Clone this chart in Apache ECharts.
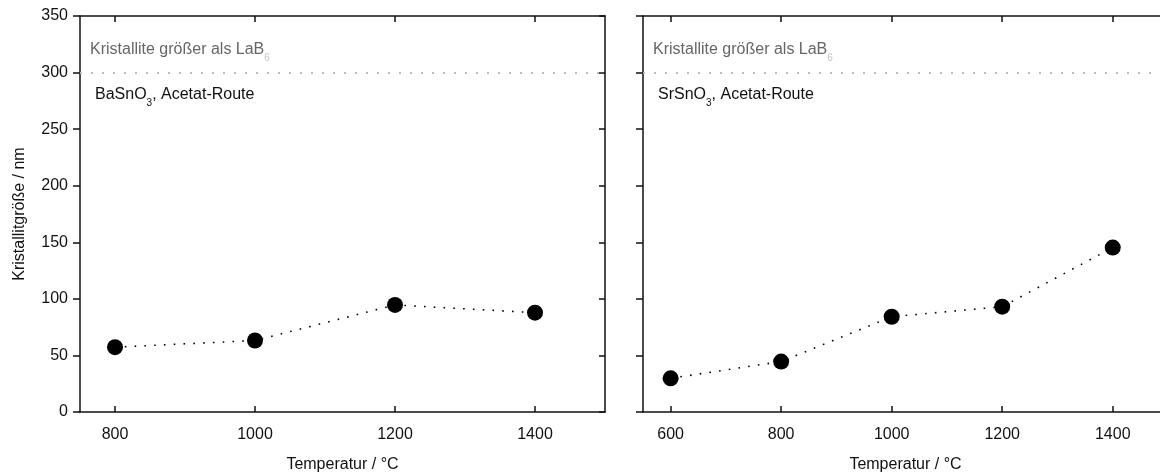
<!DOCTYPE html>
<html>
<head>
<meta charset="utf-8">
<script src="https://cdn.jsdelivr.net/npm/echarts@6/dist/echarts.min.js"></script>
<style>
html,body{margin:0;padding:0;background:#fff;overflow:hidden;width:1160px;height:473px;}
#c{width:1180px;height:473px;}
</style>
</head>
<body>
<div id="c"></div>
<script>
// ---- data ----
const leftTemps = [800, 1000, 1200, 1400];
const leftSizes = [57.3, 63.2, 94.6, 87.8];
const rightTemps = [600, 800, 1000, 1200, 1400];
const rightSizes = [29.8, 44.6, 84.2, 93.1, 145.3];
const leftXTicks = [800, 1000, 1200, 1400];
const rightXTicks = [600, 800, 1000, 1200, 1400];
const limitValue = 300;
const leftLabel = ['BaSnO', '3', ', Acetat-Route'];
const rightLabel = ['SrSnO', '3', ', Acetat-Route'];
const limitLabel = ['Kristallite größer als LaB', '6'];
const xName = 'Temperatur / °C';
const yName = 'Kristallitgröße / nm';

const FONT = "'Liberation Sans', Arial, sans-serif";
const INK = '#111';

function pairs(xs, ys) { return xs.map((x, i) => [x, ys[i]]); }
const plain = v => String(v);

function xAxes(gridIndex, min, max, ticks) {
  return [
    {
      gridIndex, type: 'value', position: 'bottom', min, max,
      axisLine: { show: true, onZero: false, lineStyle: { color: INK, width: 1.5 } },
      axisTick: { show: true, inside: true, length: 6, customValues: ticks, lineStyle: { color: INK, width: 1.5 } },
      axisLabel: { show: true, customValues: ticks, formatter: plain, margin: 15, color: INK, fontSize: 16, fontFamily: FONT },
      splitLine: { show: false },
      name: xName, nameLocation: 'middle', nameGap: 45,
      nameTextStyle: { color: INK, fontSize: 16, fontFamily: FONT }
    },
    {
      gridIndex, type: 'value', position: 'top', min, max,
      axisLine: { show: true, onZero: false, lineStyle: { color: INK, width: 1.5 } },
      axisTick: { show: true, inside: true, length: 6, customValues: ticks, lineStyle: { color: INK, width: 1.5 } },
      axisLabel: { show: false },
      splitLine: { show: false }
    }
  ];
}

function yAxes(gridIndex, withLabels) {
  return [
    {
      gridIndex, type: 'value', position: 'left', min: 0, max: 350, interval: 50,
      axisLine: { show: true, onZero: false, lineStyle: { color: INK, width: 1.5 } },
      axisTick: { show: true, inside: false, length: 7, lineStyle: { color: INK, width: 1.5 } },
      axisLabel: { show: withLabels, formatter: plain, margin: 12, color: INK, fontSize: 16, fontFamily: FONT },
      splitLine: { show: false },
      name: withLabels ? yName : '', nameLocation: 'middle', nameGap: 52,
      nameTextStyle: { color: INK, fontSize: 16, fontFamily: FONT }
    },
    {
      gridIndex, type: 'value', position: 'right', min: 0, max: 350, interval: 50,
      axisLine: { show: true, onZero: false, lineStyle: { color: INK, width: 1.5 } },
      axisTick: { show: true, inside: true, length: 6, lineStyle: { color: INK, width: 1.5 } },
      axisLabel: { show: false },
      splitLine: { show: false }
    }
  ];
}

function dataSeries(xAxisIndex, yAxisIndex, xs, ys) {
  return {
    type: 'line', xAxisIndex, yAxisIndex,
    data: pairs(xs, ys),
    symbol: 'circle', symbolSize: 16,
    itemStyle: { color: '#000' },
    lineStyle: { color: '#000', width: 1.6, type: [1.6, 8.2] },
    silent: true, animation: false, z: 3,
    markLine: {
      silent: true, symbol: ['none', 'none'],
      label: { show: false },
      lineStyle: { color: '#bdbdbd', width: 2, type: [2, 9] },
      data: [{ yAxis: limitValue }],
      animation: false
    }
  };
}

function rich(mainColor, subColor) {
  return {
    m: { fontSize: 16, fontWeight: 'normal', color: mainColor, fontFamily: FONT, lineHeight: 21, verticalAlign: 'top' },
    s: { fontSize: 10, fontWeight: 'normal', color: subColor, fontFamily: FONT, lineHeight: 21, verticalAlign: 'bottom' }
  };
}

function titleItem(left, top, parts, richStyle) {
  let t = '{m|' + parts[0] + '}{s|' + parts[1] + '}';
  if (parts.length > 2) t += '{m|' + parts[2] + '}';
  return { left, top, padding: 0, text: t, textStyle: { fontWeight: 'normal', rich: richStyle } };
}

const option = {
  animation: false,
  backgroundColor: '#fff',
  title: [
    titleItem(90, 42, limitLabel, rich('#666', '#c4c4c4')),
    titleItem(95, 87, leftLabel, rich(INK, INK)),
    titleItem(653, 42, limitLabel, rich('#666', '#c4c4c4')),
    titleItem(658, 87, rightLabel, rich(INK, INK))
  ],
  grid: [
    { left: 80, top: 16, width: 525, height: 396, containLabel: false, outerBoundsMode: 'none' },
    { left: 643, top: 16, width: 525, height: 396, containLabel: false, outerBoundsMode: 'none' }
  ],
  xAxis: [
    ...xAxes(0, 750, 1500, leftXTicks),
    ...xAxes(1, 550, 1500, rightXTicks)
  ],
  yAxis: [
    ...yAxes(0, true),
    ...yAxes(1, false)
  ],
  series: [
    dataSeries(0, 0, leftTemps, leftSizes),
    dataSeries(2, 2, rightTemps, rightSizes)
  ]
};

const chart = echarts.init(document.getElementById('c'), null, { renderer: 'canvas' });
chart.setOption(option);
</script>
</body>
</html>
